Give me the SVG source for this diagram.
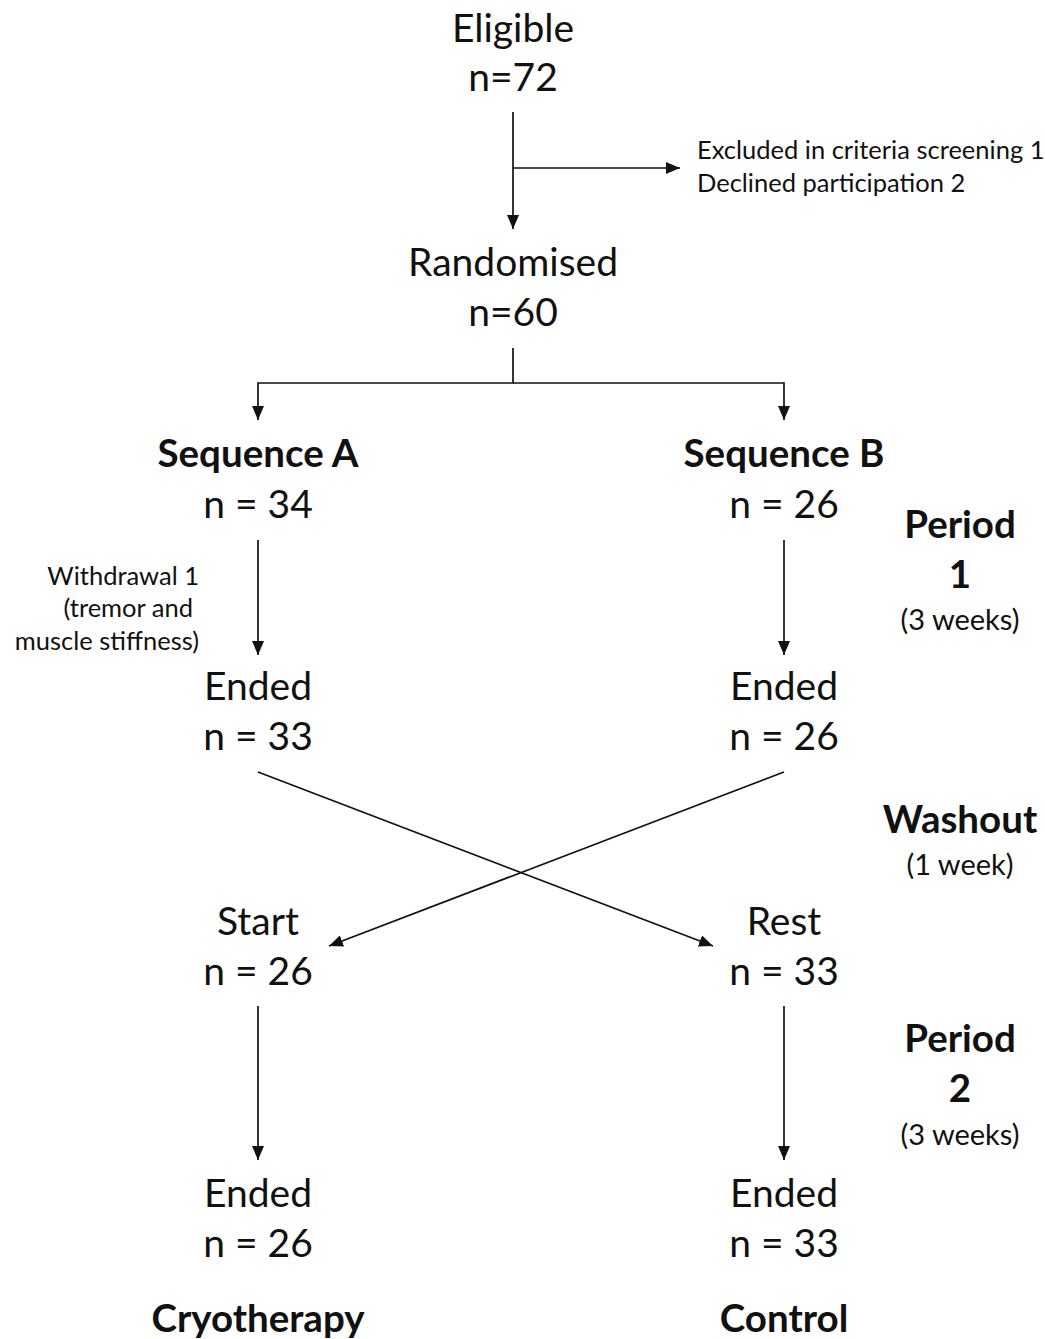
<svg xmlns="http://www.w3.org/2000/svg" width="1045" height="1339" viewBox="0 0 1045 1339">
<style>
text{font-family:Lato,"Open Sans","Liberation Sans",sans-serif;fill:#111;}
.big{font-size:39px;text-anchor:middle;}
.bold{font-size:38.5px;font-weight:bold;text-anchor:middle;}
.small{font-size:25.5px;}
.mid{font-size:29px;text-anchor:middle;}
.c{stroke:#111;stroke-width:1.7;fill:none;}
</style>
<defs>
<marker id="ah2" viewBox="0 0 14 12" refX="14" refY="6" markerWidth="14" markerHeight="12" markerUnits="userSpaceOnUse" orient="auto">
<path d="M0,0 L14,6 L0,12 z" fill="#111"/>
</marker>
</defs>
<rect width="1045" height="1339" fill="#fff"/>
<g id="connectors">
<line class="c" x1="513" y1="112" x2="513" y2="229" marker-end="url(#ah2)"/>
<line class="c" x1="513" y1="168" x2="680" y2="168" marker-end="url(#ah2)"/>
<polyline class="c" points="513,348 513,383 258,383 258,420" marker-end="url(#ah2)"/>
<polyline class="c" points="513,383 784,383 784,420" marker-end="url(#ah2)"/>
<line class="c" x1="258" y1="540" x2="258" y2="655" marker-end="url(#ah2)"/>
<line class="c" x1="784" y1="540" x2="784" y2="655" marker-end="url(#ah2)"/>
<line class="c" x1="258" y1="772" x2="713" y2="946" marker-end="url(#ah2)"/>
<line class="c" x1="784" y1="772" x2="329" y2="946" marker-end="url(#ah2)"/>
<line class="c" x1="258" y1="1006" x2="258" y2="1160" marker-end="url(#ah2)"/>
<line class="c" x1="784" y1="1006" x2="784" y2="1160" marker-end="url(#ah2)"/>
</g>
<g id="eligible"><text class="big" x="513" y="42">Eligible</text><text class="big" x="513" y="91">n=72</text></g>
<g id="excluded"><text class="small" x="697" y="159">Excluded in criteria screening 1</text><text class="small" x="697" y="192">Declined participation 2</text></g>
<g id="randomised"><text class="big" x="513" y="276">Randomised</text><text class="big" x="513" y="326">n=60</text></g>
<g id="seqA"><text class="bold" x="258" y="467">Sequence A</text><text class="big" x="258" y="518">n = 34</text></g>
<g id="seqB"><text class="bold" x="784" y="467">Sequence B</text><text class="big" x="784" y="518">n = 26</text></g>
<g id="period1"><text class="bold" x="960" y="538">Period</text><text class="bold" x="960" y="588">1</text><text class="mid" x="960" y="630">(3 weeks)</text></g>
<g id="withdrawal"><text class="small" x="199" y="585" text-anchor="end">Withdrawal 1</text><text class="small" x="193" y="617" text-anchor="end">(tremor and</text><text class="small" x="199" y="650" text-anchor="end">muscle stiffness)</text></g>
<g id="endedA1"><text class="big" x="258" y="700">Ended</text><text class="big" x="258" y="750">n = 33</text></g>
<g id="endedB1"><text class="big" x="784" y="700">Ended</text><text class="big" x="784" y="750">n = 26</text></g>
<g id="washout"><text class="bold" x="960" y="833">Washout</text><text class="mid" x="960" y="875">(1 week)</text></g>
<g id="start"><text class="big" x="258" y="935">Start</text><text class="big" x="258" y="985">n = 26</text></g>
<g id="rest"><text class="big" x="784" y="935">Rest</text><text class="big" x="784" y="985">n = 33</text></g>
<g id="period2"><text class="bold" x="960" y="1052">Period</text><text class="bold" x="960" y="1102">2</text><text class="mid" x="960" y="1145">(3 weeks)</text></g>
<g id="endedA2"><text class="big" x="258" y="1207">Ended</text><text class="big" x="258" y="1257">n = 26</text></g>
<g id="endedB2"><text class="big" x="784" y="1207">Ended</text><text class="big" x="784" y="1257">n = 33</text></g>
<g id="cryo"><text class="bold" x="258" y="1332">Cryotherapy</text></g>
<g id="control"><text class="bold" x="784" y="1332">Control</text></g>
</svg>
